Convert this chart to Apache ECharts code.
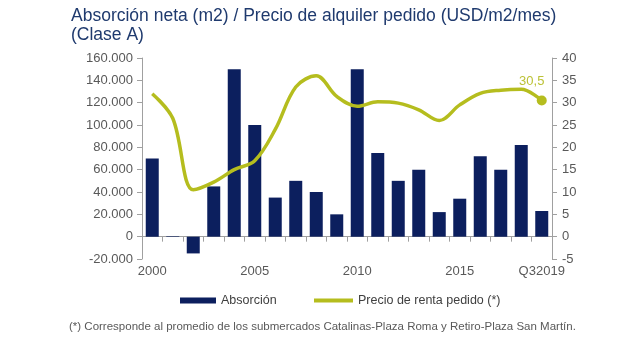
<!DOCTYPE html>
<html>
<head>
<meta charset="utf-8">
<script src="https://cdn.jsdelivr.net/npm/echarts@6/dist/echarts.min.js"></script>
<style>
html,body{margin:0;padding:0;background:#fff;}
#c{width:640px;height:338px;}
</style>
</head>
<body>
<div id="c"></div>
<script>
const categories = ['2000','2001','2002','2003','2004','2005','2006','2007','2008','2009','2010','2011','2012','2013','2014','2015','2016','2017','2018','Q32019'];
const absorcion = [70000, 500, -15000, 45000, 150000, 100000, 35000, 50000, 40000, 20000, 150000, 75000, 50000, 60000, 22000, 34000, 72000, 60000, 82000, 23000];
const precio = [32, 26.5, 10.5, 12.2, 15, 17, 24, 33.5, 36, 31.4, 29.2, 30.2, 29.9, 28.4, 26, 29.5, 32.1, 32.8, 33, 30.5];
const leftTicks = {min: -20000, max: 160000, interval: 20000};
const rightTicks = {min: -5, max: 40, interval: 5};
const lastLabel = '30,5';

const navy = '#0c1f5e';
const olive = '#b5bd1e';
const axisGray = '#a0a0a0';
const labelGray = '#595959';
const font = 'Liberation Sans, Arial, sans-serif';

function fmtThousands(v){
  const s = Math.abs(v).toString().replace(/\B(?=(\d{3})+(?!\d))/g, '.');
  return (v < 0 ? '-' : '') + s;
}

const lineData = precio.map((v, i) => {
  if (i === precio.length - 1) {
    return {
      value: v,
      symbol: 'circle',
      symbolSize: 10,
      label: {
        show: true, position: 'top', formatter: lastLabel,
        color: '#bcc236', fontSize: 13, fontFamily: font, offset: [-10, -3]
      }
    };
  }
  return v;
});

const chart = echarts.init(document.getElementById('c'), null, {renderer: 'canvas'});
chart.setOption({
  animation: false,
  backgroundColor: '#fff',
  textStyle: {fontFamily: font},
  title: {
    text: 'Absorción neta (m2) / Precio de alquiler pedido (USD/m2/mes)\n(Clase A)',
    left: 66, top: 2,
    textStyle: {color: '#1f3a6e', fontSize: 17.5, fontWeight: 'normal', fontFamily: font, lineHeight: 19}
  },
  legend: [
    {
      data: [{name: 'Absorción', icon: 'rect'}],
      left: 175, top: 289,
      itemWidth: 36, itemHeight: 6,
      textStyle: {color: '#404040', fontSize: 12.5, fontFamily: font},
      selectedMode: false
    },
    {
      data: [{name: 'Precio de renta pedido (*)', icon: 'rect'}],
      left: 309, top: 289,
      itemWidth: 39, itemHeight: 4,
      textStyle: {color: '#404040', fontSize: 12.5, fontFamily: font},
      selectedMode: false
    }
  ],
  grid: {left: 142, right: 88, top: 58, bottom: 79, containLabel: false},
  xAxis: {
    type: 'category',
    data: categories,
    boundaryGap: true,
    axisLine: {show: true, onZero: true, lineStyle: {color: axisGray, width: 1}},
    axisTick: {show: true, length: 5, inside: false, alignWithLabel: false, interval: 0, lineStyle: {color: axisGray}},
    axisLabel: {
      color: labelGray, fontSize: 13, fontFamily: font, margin: 6,
      interval: (idx) => idx % 5 === 0 || idx === categories.length - 1
    }
  },
  yAxis: [
    {
      type: 'value', position: 'left',
      min: leftTicks.min, max: leftTicks.max, interval: leftTicks.interval,
      axisLine: {show: true, lineStyle: {color: axisGray}},
      axisTick: {show: true, length: 5, lineStyle: {color: axisGray}},
      splitLine: {show: false},
      axisLabel: {color: labelGray, fontSize: 13, fontFamily: font, margin: 9, formatter: fmtThousands}
    },
    {
      type: 'value', position: 'right',
      min: rightTicks.min, max: rightTicks.max, interval: rightTicks.interval,
      axisLine: {show: true, lineStyle: {color: axisGray}},
      axisTick: {show: true, length: 5, lineStyle: {color: axisGray}},
      splitLine: {show: false},
      axisLabel: {color: labelGray, fontSize: 13, fontFamily: font, margin: 10}
    }
  ],
  series: [
    {
      name: 'Absorción', type: 'bar', yAxisIndex: 0,
      data: absorcion, barWidth: 13,
      itemStyle: {color: navy}
    },
    {
      name: 'Precio de renta pedido (*)', type: 'line', yAxisIndex: 1,
      data: lineData, smooth: 0.35,
      symbol: 'none', showSymbol: true,
      lineStyle: {color: olive, width: 3.5},
      itemStyle: {color: olive},
      z: 5
    }
  ],
  graphic: [
    {
      type: 'text', left: 69, top: 321,
      style: {
        text: '(*) Corresponde al promedio de los submercados Catalinas-Plaza Roma y Retiro-Plaza San Martín.',
        fill: labelGray, font: '11.5px Liberation Sans, Arial, sans-serif'
      }
    }
  ]
});
</script>
</body>
</html>
